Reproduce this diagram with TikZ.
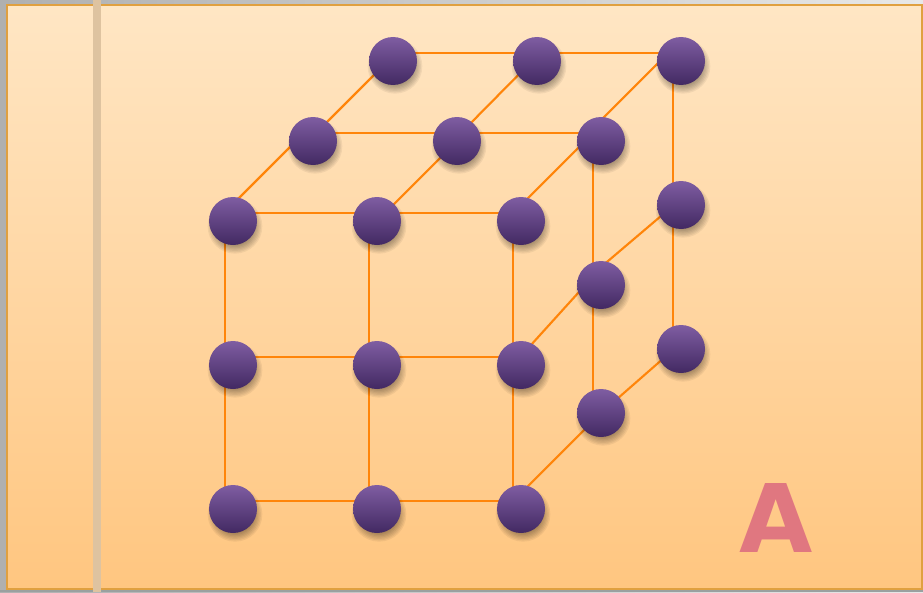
\documentclass[tikz,border=0pt]{standalone}
\usepackage{fontspec}
\usepackage{tikz}
\usetikzlibrary{
  positioning
}
\pgfdeclarelayer{balls}
\pgfsetlayers{main,balls}
\newfontfamily\letterfont{DejaVu Sans}[BoldFont={DejaVu Sans Bold}]
\definecolor{PanelTop}{RGB}{255,230,196}
\definecolor{PanelBottom}{RGB}{255,198,128}
\definecolor{PanelEdge}{RGB}{224,160,64}
\definecolor{BarTan}{RGB}{222,195,160}
\definecolor{WireOrange}{RGB}{255,133,10}
\definecolor{BallTop}{RGB}{127,93,162}
\definecolor{BallBottom}{RGB}{66,41,98}
\definecolor{LetterRose}{RGB}{224,119,128}
\definecolor{MarginLeft}{RGB}{176,176,176}
\definecolor{MarginRight}{RGB}{232,232,232}
\definecolor{MarginLow}{RGB}{154,160,160}
\tikzset{
  ball/.style={circle,minimum size=36pt,inner sep=0pt,top color=BallTop,bottom color=BallBottom},
  ballshadow/.style={fill=black,opacity=0.055},
  wire/.style={line width=1.6pt,draw=WireOrange},
  panel/.style={draw=PanelEdge,line width=1.6pt,top color=PanelTop,bottom color=PanelBottom},
  letter/.style={text=LetterRose,font=\letterfont\bfseries\fontsize{71}{71}\selectfont,inner sep=0pt}
}
\begin{document}
\begin{tikzpicture}[x=0.75pt,y=-0.75pt,node distance=108pt,on grid]
\useasboundingbox (0,0) rectangle (923,592);
% page and panel
\shade[left color=MarginLeft,right color=MarginRight] (0,0) rectangle (923,592);
\fill[MarginLow] (0,590) rectangle (923,592);
\path[panel] (7,5) rectangle (922,589);
\fill[BarTan] (93,0) rectangle (101,592);

\begin{pgfonlayer}{balls}
% front face
\node[ball] (f11) at (233,221) {};
\node[ball, right=of f11] (f12) {};
\node[ball, right=of f12] (f13) {};
\node[ball, below=of f11] (f21) {};
\node[ball, right=of f21] (f22) {};
\node[ball, right=of f22] (f23) {};
\node[ball, below=of f21] (f31) {};
\node[ball, right=of f31] (f32) {};
\node[ball, right=of f32] (f33) {};

% middle layer
\node[ball, above right=60pt and 60pt of f11] (m1) {};
\node[ball, right=of m1] (m2) {};
\node[ball, right=of m2] (m3) {};
\node[ball, below=of m3] (m4) {};
\node[ball, below=96pt of m4] (m5) {};

% back layer
\node[ball, above right=60pt and 60pt of m1] (b1) {};
\node[ball, right=of b1] (b2) {};
\node[ball, right=of b2] (b3) {};
\node[ball, below=of b3] (b4) {};
\node[ball, below=of b4] (b5) {};
\end{pgfonlayer}

\node[letter] (mark) at (776.5,518) {A};

% edges sit up and left of the ball centres
\foreach \a/\b in {f11/f12,f12/f13,f21/f22,f22/f23,f31/f32,f32/f33,
                   f11/f21,f21/f31,f12/f22,f22/f32,f13/f23,f23/f33,
                   m1/m2,m2/m3,b1/b2,b2/b3,m3/m4,m4/m5,b3/b4,b4/b5,f13/m3}
  \draw[wire] ([shift={(-6pt,6pt)}]\a.center) -- ([shift={(-6pt,6pt)}]\b.center);
% depth edges
\foreach \a/\b/\u/\v in {f11/m1/12.75/12.75,f12/m2/0/0,m1/b1/3.75/3.75,m2/b2/3/3.75,
                         m3/b3/15.75/15.75,f23/m4/6.75/13,f33/m5/12/0,
                         m4/b4/13.5/4.5,m5/b5/0/4.5}
  \draw[wire] ([yshift=\u pt]\a.center) -- ([yshift=\v pt]\b.center);

% soft shadows under the balls
\foreach \n in {f11,f12,f13,f21,f22,f23,f31,f32,f33,m1,m2,m3,m4,m5,b1,b2,b3,b4,b5}
  \foreach \r in {14.5,15.5,16.5,17.5,18.5,19.5,20.5}
    \path[ballshadow] ([shift={(1.5pt,-4pt)}]\n.center) circle (\r pt);
\end{tikzpicture}
\end{document}
